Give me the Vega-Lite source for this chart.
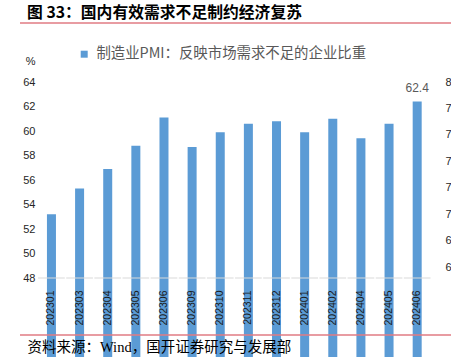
{
  "$schema": "https://vega.github.io/schema/vega-lite/v6.json",
  "width": 431,
  "height": 196,
  "autosize": {"type": "none"},
  "padding": {"left": 20, "top": 82, "right": 0, "bottom": 79},
  "background": "white",
  "config": {"view": {"stroke": null}, "font": "Liberation Sans", "axis": {"grid": false}},
  "title": {
    "text": "图 33：国内有效需求不足制约经济复苏",
    "anchor": "start",
    "frame": "group",
    "font": "Noto Sans CJK SC",
    "fontSize": 15.8,
    "fontWeight": "bold",
    "color": "#000000",
    "offset": 0,
    "dx": 7
  },
  "datasets": {
    "pmi": [
      {"month": "202301", "pmi": 53.2},
      {"month": "202303", "pmi": 55.3},
      {"month": "202304", "pmi": 56.9},
      {"month": "202305", "pmi": 58.8},
      {"month": "202306", "pmi": 61.1},
      {"month": "202309", "pmi": 58.7},
      {"month": "202310", "pmi": 59.9},
      {"month": "202311", "pmi": 60.6},
      {"month": "202312", "pmi": 60.8},
      {"month": "202401", "pmi": 59.9},
      {"month": "202402", "pmi": 61.0},
      {"month": "202404", "pmi": 59.4},
      {"month": "202405", "pmi": 60.6},
      {"month": "202406", "pmi": 62.4}
    ],
    "one": [{"k": 1}]
  },
  "layer": [
    {
      "data": {"name": "pmi"},
      "mark": {"type": "bar", "color": "#5B9BD5"},
      "encoding": {
        "x": {
          "field": "month",
          "type": "ordinal",
          "scale": {"paddingInner": 0.68, "paddingOuter": 1.414, "align": 0.479, "round": false},
          "axis": {
            "orient": "bottom",
            "zindex": 2,
            "domain": false,
            "ticks": false,
            "tickSize": 0,
            "labelAngle": 270,
            "labelAlign": "right",
            "labelBaseline": "middle",
            "labelPadding": 12,
            "labelOverlap": false,
            "labelFont": "Liberation Sans",
            "labelFontSize": 10.5,
            "labelColor": "#1a1a1a",
            "title": "资料来源：Wind，国开证券研究与发展部",
            "titleX": 7,
            "titleY": 69,
            "titleAlign": "left",
            "titleAnchor": "start",
            "titleBaseline": "middle",
            "titleFont": "Liberation Serif, Noto Sans CJK SC",
            "titleFontSize": 14.5,
            "titleFontWeight": "normal",
            "titleColor": "#000000"
          }
        },
        "y": {
          "field": "pmi",
          "type": "quantitative",
          "scale": {"domain": [48, 64], "nice": false, "zero": false},
          "axis": {
            "orient": "left",
            "tickCount": 9,
            "domain": false,
            "ticks": false,
            "tickSize": 0,
            "labelOverlap": false,
            "labelPadding": -15,
            "labelFont": "Liberation Sans",
            "labelFontSize": 11,
            "labelColor": "#262626",
            "title": "%",
            "titleAngle": 0,
            "titleX": 15,
            "titleY": -20.5,
            "titleAlign": "right",
            "titleBaseline": "middle",
            "titleFont": "Liberation Sans",
            "titleFontSize": 11,
            "titleFontWeight": "normal",
            "titleColor": "#262626"
          }
        },
        "color": {
          "datum": "制造业PMI：反映市场需求不足的企业比重",
          "scale": {"range": ["#5B9BD5"]},
          "legend": {
            "orient": "none",
            "legendX": 57,
            "legendY": -35,
            "title": null,
            "padding": 0,
            "symbolType": "square",
            "symbolSize": 49,
            "symbolStrokeWidth": 0,
            "labelFont": "Noto Sans CJK SC",
            "labelFontSize": 14.4,
            "labelColor": "#595959",
            "labelOffset": 5,
            "labelLimit": 400
          }
        }
      }
    },
    {
      "data": {"name": "pmi"},
      "mark": {"type": "tick", "orient": "horizontal", "color": "#d9d9d9", "size": 26.7, "thickness": 1, "opacity": 1},
      "encoding": {
        "x": {"field": "month", "type": "ordinal"},
        "y": {"datum": 48, "type": "quantitative", "scale": {"domain": [48, 64], "nice": false, "zero": false}, "axis": null}
      }
    },
    {
      "data": {"name": "pmi"},
      "transform": [{"filter": "datum.month == '202406'"}],
      "mark": {"type": "text", "baseline": "alphabetic", "dy": -10, "font": "Liberation Sans", "fontSize": 12, "color": "#595959"},
      "encoding": {
        "x": {"field": "month", "type": "ordinal"},
        "y": {"field": "pmi", "type": "quantitative", "scale": {"domain": [48, 64], "nice": false, "zero": false}, "axis": null},
        "text": {"field": "pmi", "type": "quantitative", "format": ".1f"}
      }
    },
    {
      "data": {"name": "one"},
      "mark": {"type": "rule", "color": "#e07b83", "strokeWidth": 1.5},
      "encoding": {"y": {"datum": 68.816, "type": "quantitative", "scale": {"domain": [48, 64], "nice": false, "zero": false}, "axis": null}}
    },
    {
      "data": {"name": "one"},
      "mark": {"type": "rule", "color": "#e07b83", "strokeWidth": 1.5},
      "encoding": {"y": {"datum": 43.35, "type": "quantitative", "scale": {"domain": [48, 64], "nice": false, "zero": false}, "axis": null}}
    },
    {
      "data": {"name": "one"},
      "mark": {"type": "point", "opacity": 0},
      "encoding": {
        "y": {
          "datum": 70,
          "type": "quantitative",
          "scale": {"domain": [65.2, 80], "nice": false, "zero": false},
          "axis": {
            "orient": "right",
            "values": [66, 68, 70, 72, 74, 76, 78, 80],
            "domain": false,
            "ticks": false,
            "tickSize": 0,
            "labelOverlap": false,
            "labelPadding": -6,
            "labelFont": "Liberation Sans",
            "labelFontSize": 11,
            "labelColor": "#262626",
            "title": null
          }
        }
      }
    }
  ],
  "resolve": {"scale": {"y": "independent"}}
}
